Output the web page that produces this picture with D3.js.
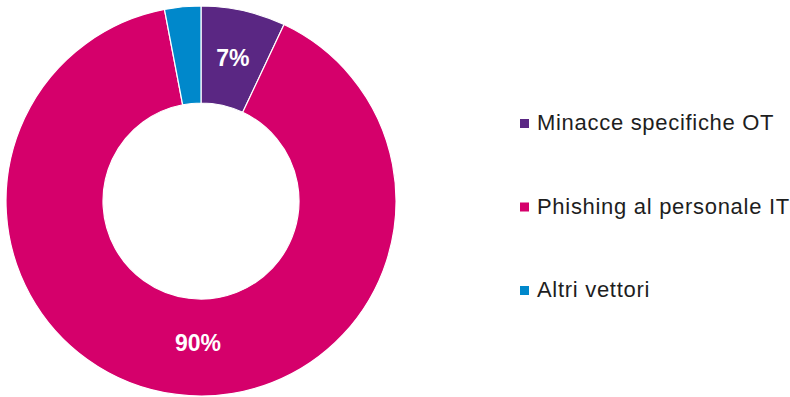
<!DOCTYPE html>
<html>
<head>
  <meta charset="UTF-8">
  <title>donut</title>
  <style>
    body { margin: 0; background: #fff; }
    .slice { stroke: #fff; stroke-width: 1.2px; }
    .lbl { fill: #fff; font-family: "Liberation Sans", Arial, sans-serif; font-weight: bold; font-size: 23px; }
    .leg text { fill: #1e1e1e; font-family: "Liberation Sans", Arial, sans-serif; font-size: 22px; letter-spacing: 0.7px; }
  </style>
</head>
<body>
  <div class="svg-zone"></div>
  <script src="https://cdn.jsdelivr.net/npm/d3@7"></script>
  <script>
    var categories = ["Minacce specifiche OT", "Phishing al personale IT", "Altri vettori"];
    var values = [7, 90, 3];
    var colors = ["#5a2783", "#d5006b", "#0088cb"];

    var width = 790, height = 397,
      cx = 201, cy = 201,
      outerR = 195, innerR = 98;

    var svg = d3.select(".svg-zone").append("svg")
      .attr("width", width)
      .attr("height", height);

    var color = d3.scaleOrdinal().domain(categories).range(colors);

    var pie = d3.pie().sort(null).value(function (d) { return d.v; });
    var data = categories.map(function (c, i) { return { name: c, v: values[i] }; });

    var arc = d3.arc().innerRadius(innerR).outerRadius(outerR);

    var g = svg.append("g").attr("transform", "translate(" + cx + "," + cy + ")");

    var arcs = pie(data);

    g.selectAll(".slice")
      .data(arcs)
      .enter().append("path")
      .attr("class", "slice")
      .attr("fill", function (d) { return color(d.data.name); })
      .attr("d", arc);

    // labels only on the bigger slices
    g.selectAll(".lbl")
      .data(arcs.filter(function (d) { return d.data.v >= 5; }))
      .enter().append("text")
      .attr("class", "lbl")
      .attr("text-anchor", "middle")
      .attr("dy", "0.35em")
      .attr("transform", function (d) {
        var p;
        if (d.endAngle - d.startAngle > Math.PI) {
          // large slice: label sits at the bottom of the ring
          var r = (innerR + outerR) / 2 - 5;
          p = [-3, r];
        } else {
          p = arc.centroid(d);
        }
        return "translate(" + p[0] + "," + p[1] + ")";
      })
      .text(function (d) { return d.data.v + "%"; });

    // legend
    var legY = d3.scalePoint().domain(categories).range([124, 291]);

    var leg = svg.append("g").attr("class", "leg")
      .selectAll("g")
      .data(categories)
      .enter().append("g")
      .attr("transform", function (d) { return "translate(520," + legY(d) + ")"; });

    leg.append("rect")
      .attr("x", 0).attr("y", -5)
      .attr("width", 9).attr("height", 9)
      .attr("fill", function (d) { return color(d); });

    leg.append("text")
      .attr("x", 17)
      .attr("y", 6)
      .text(function (d) { return d; });
  </script>
</body>
</html>
